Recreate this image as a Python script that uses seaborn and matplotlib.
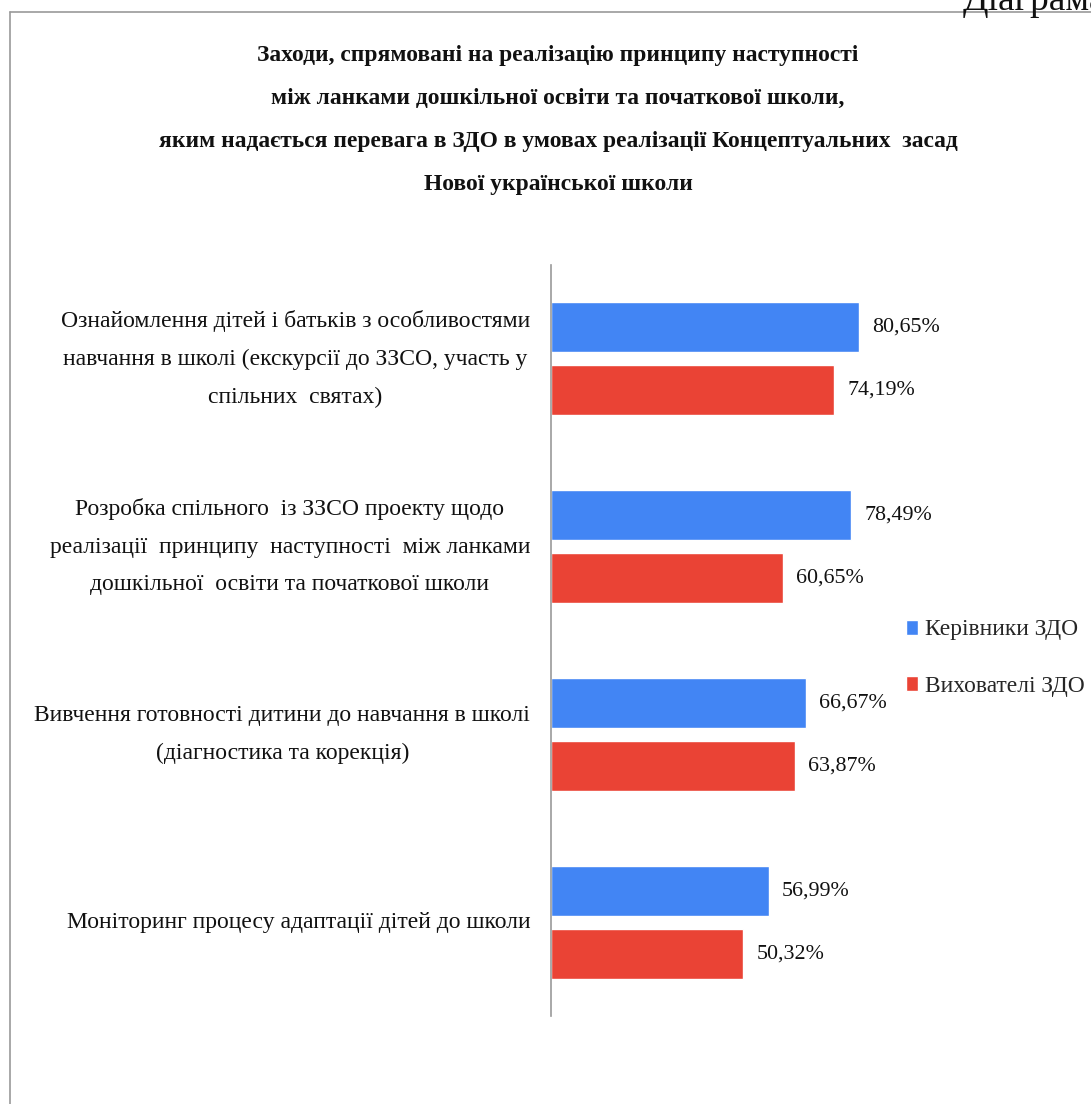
import matplotlib
matplotlib.use("Agg")
import matplotlib.pyplot as plt
from matplotlib.lines import Line2D
import seaborn as sns
import pandas as pd

# ---- data ----
categories = [
    "Ознайомлення дітей і батьків з особливостями\nнавчання в школі (екскурсії до ЗЗСО, участь у\nспільних  святах)",
    "Розробка спільного  із ЗЗСО проекту щодо\nреалізації  принципу  наступності  між ланками\nдошкільної  освіти та початкової школи",
    "Вивчення готовності дитини до навчання в школі\n(діагностика та корекція)",
    "Моніторинг процесу адаптації дітей до школи",
]
series_names = ["Керівники ЗДО", "Вихователі ЗДО"]
kerivnyky = [80.65, 78.49, 66.67, 56.99]
vykhovateli = [74.19, 60.65, 63.87, 50.32]
title_lines = [
    "Заходи, спрямовані на реалізацію принципу наступності",
    "між ланками дошкільної освіти та початкової школи,",
    "яким надається перевага в ЗДО в умовах реалізації Концептуальних  засад",
    "Нової української школи",
]
colors = ["#4285F4", "#EA4335"]

df = pd.DataFrame({
    "cat": categories * 2,
    "series": [series_names[0]] * 4 + [series_names[1]] * 4,
    "value": kerivnyky + vykhovateli,
})

sns.set_theme(style="white")
plt.rcParams["font.family"] = ["Liberation Serif", "DejaVu Serif"]

W, H = 1091, 1104
fig = plt.figure(figsize=(W / 100, H / 100), dpi=100)
ax = fig.add_axes([551 / W, 1 - 1016 / H, (933 - 551) / W, 751 / H])

sns.barplot(data=df, y="cat", x="value", hue="series", order=categories,
            hue_order=series_names, palette=colors, orient="h",
            width=0.67, gap=0.206, saturation=1, ax=ax, legend=True)

ax.set_xlim(0, 100)
ax.set_ylim(3.5, -0.5)
ax.set_xlabel("")
ax.set_ylabel("")
ax.set_xticks([])
for s in ["top", "right", "bottom"]:
    ax.spines[s].set_visible(False)
ax.spines["left"].set_color("#999999")
ax.spines["left"].set_linewidth(1.2)
ax.tick_params(axis="y", length=0, pad=15)
for lab in ax.get_yticklabels():
    lab.set_fontsize(17)
    lab.set_multialignment("center")
    lab.set_verticalalignment("center")
    lab.set_linespacing(2.05)
    lab.set_color("#111111")

# data labels
for cont, vals in zip(ax.containers, [kerivnyky, vykhovateli]):
    ax.bar_label(cont, labels=[f"{v:.2f}%".replace(".", ",") for v in vals],
                 padding=9.5, fontsize=15.8, color="#111111")

sns.move_legend(ax, loc="center left", bbox_to_anchor=(906 / W, 1 - 658 / H),
                bbox_transform=fig.transFigure, frameon=False, title=None,
                fontsize=16.9, handlelength=0.5, handleheight=0.6,
                handletextpad=0.3, labelspacing=1.5, borderpad=0, borderaxespad=0)

# title
fig.text(558 / W, 1 - 120 / H, "\n".join(title_lines), ha="center", va="center",
         fontsize=16.9, fontweight="bold", linespacing=2.37, color="#111111")

# page frame and cut-off caption
fig.add_artist(Line2D([10 / W, 1], [1 - 12 / H, 1 - 12 / H], transform=fig.transFigure,
                      color="#9a9a9a", lw=1.2))
fig.add_artist(Line2D([10 / W, 10 / W], [0, 1 - 12 / H], transform=fig.transFigure,
                      color="#9a9a9a", lw=1.2))
fig.text(963 / W, 1 - 10 / H, "Діаграма", ha="left", va="baseline", fontsize=27,
         color="#111111")

fig.savefig("out.png", dpi=100)
